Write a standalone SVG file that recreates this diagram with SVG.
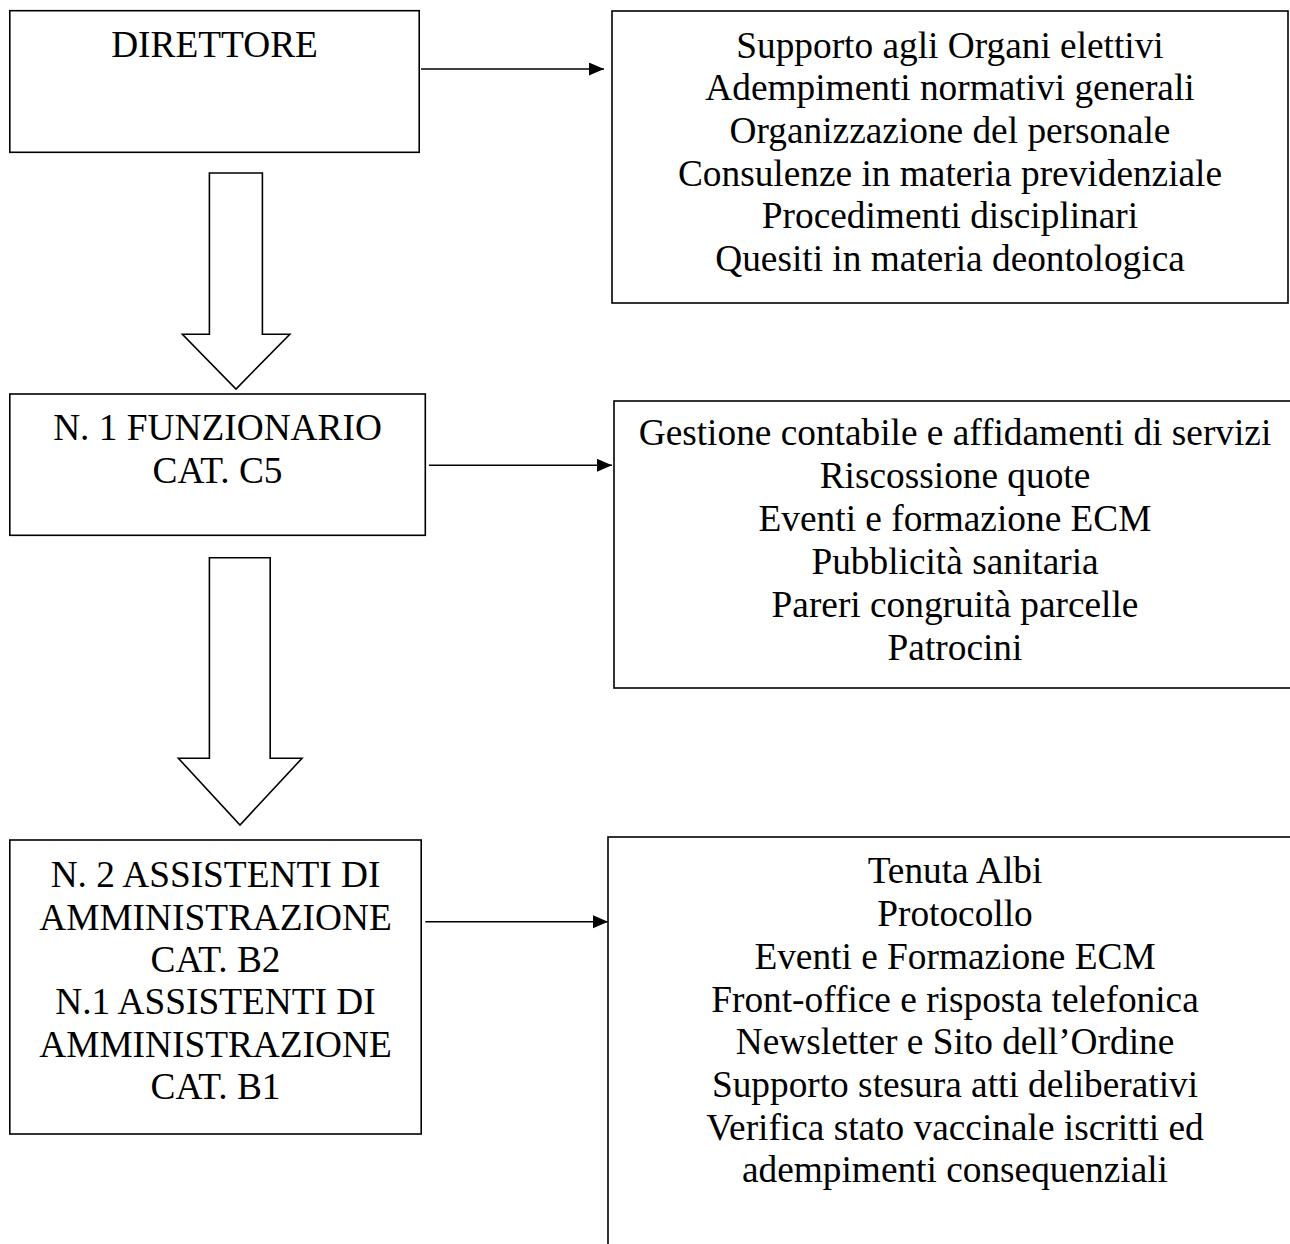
<svg xmlns="http://www.w3.org/2000/svg" width="1290" height="1244" viewBox="0 0 1290 1244">
<style>
.box{fill:#fff;stroke:#000;stroke-width:1.6}
.blk{fill:#fff;stroke:#000;stroke-width:1.6;stroke-linejoin:miter}
.t{font-family:"Liberation Serif","Times New Roman",serif;font-size:37.33px;fill:#000;text-anchor:middle}
.c{stroke:#000;stroke-width:1.6;fill:none}
</style>
<defs>
<marker id="ah" markerUnits="userSpaceOnUse" markerWidth="16" markerHeight="14" refX="15" refY="6.5" orient="auto">
<path d="M0,0 L15,6.5 L0,13 Z" fill="#000"/>
</marker>
</defs>
<rect width="1290" height="1244" fill="#fff"/>

<g id="n-direttore">
<rect class="box" x="9.8" y="10.7" width="409.4" height="141.6"/>
<text class="t" x="214.5" y="57">DIRETTORE</text>
</g>

<g id="n-compiti-direttore">
<rect class="box" x="612" y="11" width="676" height="292"/>
<text class="t" x="950" y="57.5">Supporto agli Organi elettivi</text>
<text class="t" x="950" y="100.2">Adempimenti normativi generali</text>
<text class="t" x="950" y="142.9">Organizzazione del personale</text>
<text class="t" x="950" y="185.6">Consulenze in materia previdenziale</text>
<text class="t" x="950" y="228.3">Procedimenti disciplinari</text>
<text class="t" x="950" y="271">Quesiti in materia deontologica</text>
</g>

<g id="n-funzionario">
<rect class="box" x="9.8" y="394" width="415.5" height="141.3"/>
<text class="t" x="217.5" y="440">N. 1 FUNZIONARIO</text>
<text class="t" x="217.5" y="483">CAT. C5</text>
</g>

<g id="n-compiti-funzionario">
<rect class="box" x="614" y="401" width="690" height="287"/>
<text class="t" x="955" y="445">Gestione contabile e affidamenti di servizi</text>
<text class="t" x="955" y="488">Riscossione quote</text>
<text class="t" x="955" y="531">Eventi e formazione ECM</text>
<text class="t" x="955" y="574">Pubblicità sanitaria</text>
<text class="t" x="955" y="617">Pareri congruità parcelle</text>
<text class="t" x="955" y="660">Patrocini</text>
</g>

<g id="n-assistenti">
<rect class="box" x="9.8" y="840" width="411.4" height="294"/>
<text class="t" x="215.5" y="887">N. 2 ASSISTENTI DI</text>
<text class="t" x="215.5" y="929.5">AMMINISTRAZIONE</text>
<text class="t" x="215.5" y="971.5">CAT. B2</text>
<text class="t" x="215.5" y="1014">N.1 ASSISTENTI DI</text>
<text class="t" x="215.5" y="1056.5">AMMINISTRAZIONE</text>
<text class="t" x="215.5" y="1098.5">CAT. B1</text>
</g>

<g id="n-compiti-assistenti">
<rect class="box" x="608" y="837" width="700" height="460"/>
<text class="t" x="955" y="883">Tenuta Albi</text>
<text class="t" x="955" y="926">Protocollo</text>
<text class="t" x="955" y="968.5">Eventi e Formazione ECM</text>
<text class="t" x="955" y="1011.5">Front-office e risposta telefonica</text>
<text class="t" x="955" y="1054">Newsletter e Sito dell’Ordine</text>
<text class="t" x="955" y="1097">Supporto stesura atti deliberativi</text>
<text class="t" x="955" y="1139.5">Verifica stato vaccinale iscritti ed</text>
<text class="t" x="955" y="1182">adempimenti consequenziali</text>
</g>

<g id="connectors">
<line class="c" x1="421" y1="69" x2="604" y2="69" marker-end="url(#ah)"/>
<line class="c" x1="429" y1="465.3" x2="612" y2="465.3" marker-end="url(#ah)"/>
<line class="c" x1="425.3" y1="921.7" x2="608" y2="921.7" marker-end="url(#ah)"/>
<polygon class="blk" points="209.4,173 262.4,173 262.4,334.3 289.8,334.3 236,389 182.4,334.3 209.4,334.3"/>
<polygon class="blk" points="209.4,557.7 270.2,557.7 270.2,758.3 302,758.3 240,825 178.4,758.3 209.4,758.3"/>
</g>
</svg>
